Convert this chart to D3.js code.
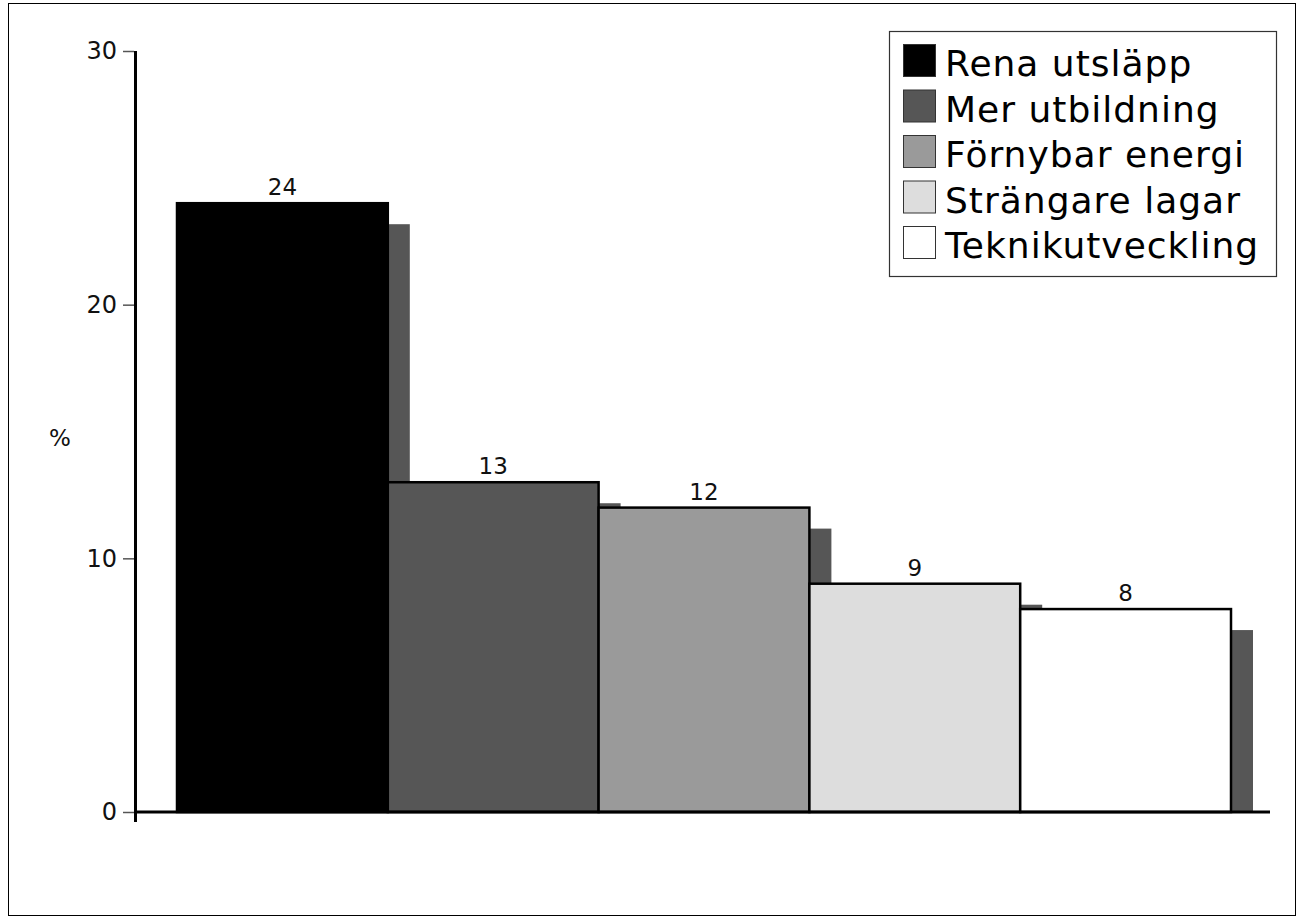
<!DOCTYPE html>
<html>
<head>
<meta charset="utf-8">
<script src="https://cdn.jsdelivr.net/npm/d3@7"></script>
<style>
  html, body { margin: 0; padding: 0; background: #fff; }
  svg { display: block; font-family: "DejaVu Sans", sans-serif; }
</style>
</head>
<body>
<svg id="chart" width="1297" height="917"></svg>
<script>
const categories = ["Rena utsläpp", "Mer utbildning", "Förnybar energi", "Strängare lagar", "Teknikutveckling"];
const values = [24, 13, 12, 9, 8];
const colors = ["#000000", "#565656", "#9a9a9a", "#dddddd", "#ffffff"];
const yTicks = [0, 10, 20, 30];
const yLabel = "%";

const svg = d3.select("#chart");

// outer frame
svg.append("rect").attr("x", 8.5).attr("y", 3.5).attr("width", 1287).attr("height", 912)
  .attr("fill", "none").attr("stroke", "#000").attr("stroke-width", 1);

const y = d3.scaleLinear().domain([0, 30]).range([812, 51]);
const x = d3.scaleBand().domain(categories).range([177, 1231]).padding(0);
const shDx = 22, shDy = 21;

// shadows
svg.append("g").selectAll("rect").data(values).join("rect")
  .attr("x", (d, i) => x(categories[i]) + shDx)
  .attr("y", d => y(d) + shDy)
  .attr("width", x.bandwidth())
  .attr("height", d => y(0) - y(d) - shDy)
  .attr("fill", "#565656");

// bars
svg.append("g").selectAll("rect").data(values).join("rect")
  .attr("x", (d, i) => x(categories[i]))
  .attr("y", d => y(d))
  .attr("width", x.bandwidth())
  .attr("height", d => y(0) - y(d))
  .attr("fill", (d, i) => colors[i])
  .attr("stroke", "#000").attr("stroke-width", 2.5);

// value labels
svg.append("g").selectAll("text").data(values).join("text")
  .attr("x", (d, i) => x(categories[i]) + x.bandwidth() / 2)
  .attr("y", d => y(d) - 8)
  .attr("text-anchor", "middle")
  .attr("font-size", 23)
  .attr("fill", "#111")
  .text(d => d);

// y axis
const yAxis = d3.axisLeft(y).tickValues(yTicks).tickSize(11).tickPadding(6);
const gy = svg.append("g").attr("transform", "translate(134,0)").call(yAxis);
gy.select(".domain").remove();
gy.selectAll(".tick line").attr("stroke", "#555").attr("stroke-width", 1.5);
gy.selectAll(".tick text").attr("font-size", 24).attr("fill", "#111")
  .attr("font-family", "DejaVu Sans, sans-serif");

// axis lines
svg.append("line").attr("x1", 135.5).attr("x2", 135.5).attr("y1", y(30)).attr("y2", 822)
  .attr("stroke", "#000").attr("stroke-width", 3);
svg.append("line").attr("x1", 134).attr("x2", 1270).attr("y1", y(0)).attr("y2", y(0))
  .attr("stroke", "#000").attr("stroke-width", 3);

// y label
svg.append("text").attr("x", 60).attr("y", 446).attr("text-anchor", "middle")
  .attr("font-size", 23).attr("fill", "#111").text(yLabel);

// legend
const lg = svg.append("g");
lg.append("rect").attr("x", 889.5).attr("y", 31.5).attr("width", 387).attr("height", 245)
  .attr("fill", "#fff").attr("stroke", "#333").attr("stroke-width", 1.2);
const rowH = 45.5;
const items = lg.selectAll("g.item").data(categories).join("g").attr("class", "item")
  .attr("transform", (d, i) => `translate(903,${44 + i * rowH})`);
items.append("rect").attr("x", 0.5).attr("y", 0.5).attr("width", 32).attr("height", 32)
  .attr("fill", (d, i) => colors[i]).attr("stroke", "#333").attr("stroke-width", 1);
items.append("text").attr("x", 42).attr("y", 32)
  .attr("font-size", 36).attr("letter-spacing", 1).attr("fill", "#000").text(d => d);
</script>
</body>
</html>
